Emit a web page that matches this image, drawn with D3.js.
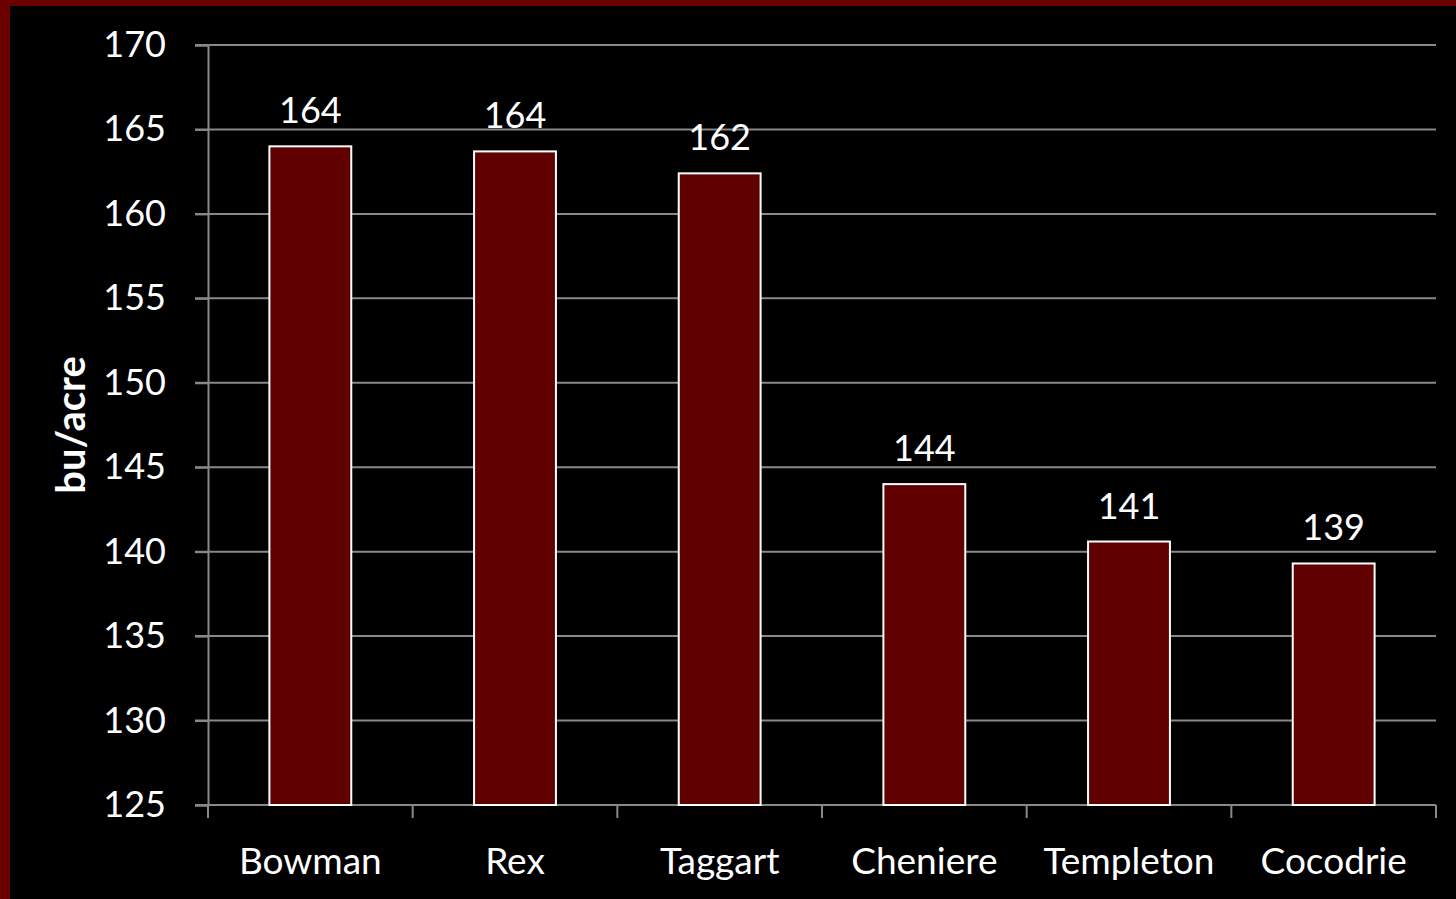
<!DOCTYPE html>
<html>
<head>
<meta charset="utf-8">
<script src="https://cdn.jsdelivr.net/npm/d3@7"></script>
<style>
  html, body { margin: 0; padding: 0; background: #000; }
  svg { display: block; }
</style>
</head>
<body>
<div id="chart"></div>
<script>
// Yield data (bu/acre)
const varieties = ['Bowman', 'Rex', 'Taggart', 'Cheniere', 'Templeton', 'Cocodrie'];
const yields = [164.0, 163.7, 162.4, 144.0, 140.6, 139.3];
const yTicks = [125, 130, 135, 140, 145, 150, 155, 160, 165, 170];

const W = 1456, H = 899;
const margin = { top: 45, right: 20, bottom: 94, left: 208 };
const width = W - margin.left - margin.right;
const height = H - margin.top - margin.bottom;

const svg = d3.select('#chart').append('svg')
  .attr('width', W)
  .attr('height', H)
  .style('font-family', 'Lato, "Open Sans", sans-serif');

// Background and the dark red frame on the left/top
svg.append('rect').attr('width', W).attr('height', H).attr('fill', '#000');
svg.append('rect').attr('width', 10).attr('height', H).attr('fill', '#6b0000');
svg.append('rect').attr('width', W).attr('height', 6).attr('fill', '#6b0000');

const g = svg.append('g')
  .attr('transform', `translate(${margin.left},${margin.top})`);

const x = d3.scaleBand()
  .domain(varieties)
  .range([0, width])
  .paddingInner(0.6)
  .paddingOuter(0.3);

const y = d3.scaleLinear()
  .domain([125, 170])
  .range([height, 0]);

// Gridlines
g.append('g')
  .selectAll('line')
  .data(yTicks)
  .join('line')
  .attr('x1', -13)
  .attr('x2', width)
  .attr('y1', d => y(d))
  .attr('y2', d => y(d))
  .attr('stroke', '#888')
  .attr('stroke-width', 2);

// Y axis
const yAxis = g.append('g')
  .call(d3.axisLeft(y).tickValues(yTicks).tickSize(13).tickPadding(29));
yAxis.select('.domain').attr('stroke', '#888').attr('stroke-width', 2);
yAxis.selectAll('.tick line').attr('stroke', '#888').attr('stroke-width', 2);
yAxis.selectAll('.tick text')
  .attr('fill', '#fff')
  .style('font-size', '36px')
  .style('font-family', 'Lato, "Open Sans", sans-serif');

// X axis: ticks between categories
const xAxis = g.append('g')
  .attr('transform', `translate(0,${height})`);
xAxis.append('line')
  .attr('x1', 0).attr('x2', width)
  .attr('stroke', '#888').attr('stroke-width', 2);
const step = width / varieties.length;
xAxis.selectAll('line.sep')
  .data(d3.range(varieties.length + 1))
  .join('line')
  .attr('class', 'sep')
  .attr('x1', i => i * step).attr('x2', i => i * step)
  .attr('y1', 0).attr('y2', 13)
  .attr('stroke', '#888').attr('stroke-width', 2);
xAxis.selectAll('text')
  .data(varieties)
  .join('text')
  .attr('x', d => x(d) + x.bandwidth() / 2)
  .attr('y', 69)
  .attr('text-anchor', 'middle')
  .attr('fill', '#fff')
  .style('font-size', '37px')
  .text(d => d);

// Bars
g.selectAll('rect.bar')
  .data(yields)
  .join('rect')
  .attr('class', 'bar')
  .attr('x', (d, i) => x(varieties[i]))
  .attr('y', d => y(d))
  .attr('width', x.bandwidth())
  .attr('height', d => height - y(d))
  .attr('fill', '#600000')
  .attr('stroke', '#fff')
  .attr('stroke-width', 2);

// Value labels
g.selectAll('text.val')
  .data(yields)
  .join('text')
  .attr('class', 'val')
  .attr('x', (d, i) => x(varieties[i]) + x.bandwidth() / 2)
  .attr('y', d => y(d) - 23)
  .attr('text-anchor', 'middle')
  .attr('fill', '#fff')
  .style('font-size', '36px')
  .text(d => Math.round(d));

// Y axis title
svg.append('text')
  .attr('transform', `translate(85,${margin.top + height / 2}) rotate(-90)`)
  .attr('text-anchor', 'middle')
  .attr('fill', '#fff')
  .style('font-size', '40px')
  .style('font-weight', 'bold')
  .text('bu/acre');
</script>
</body>
</html>
